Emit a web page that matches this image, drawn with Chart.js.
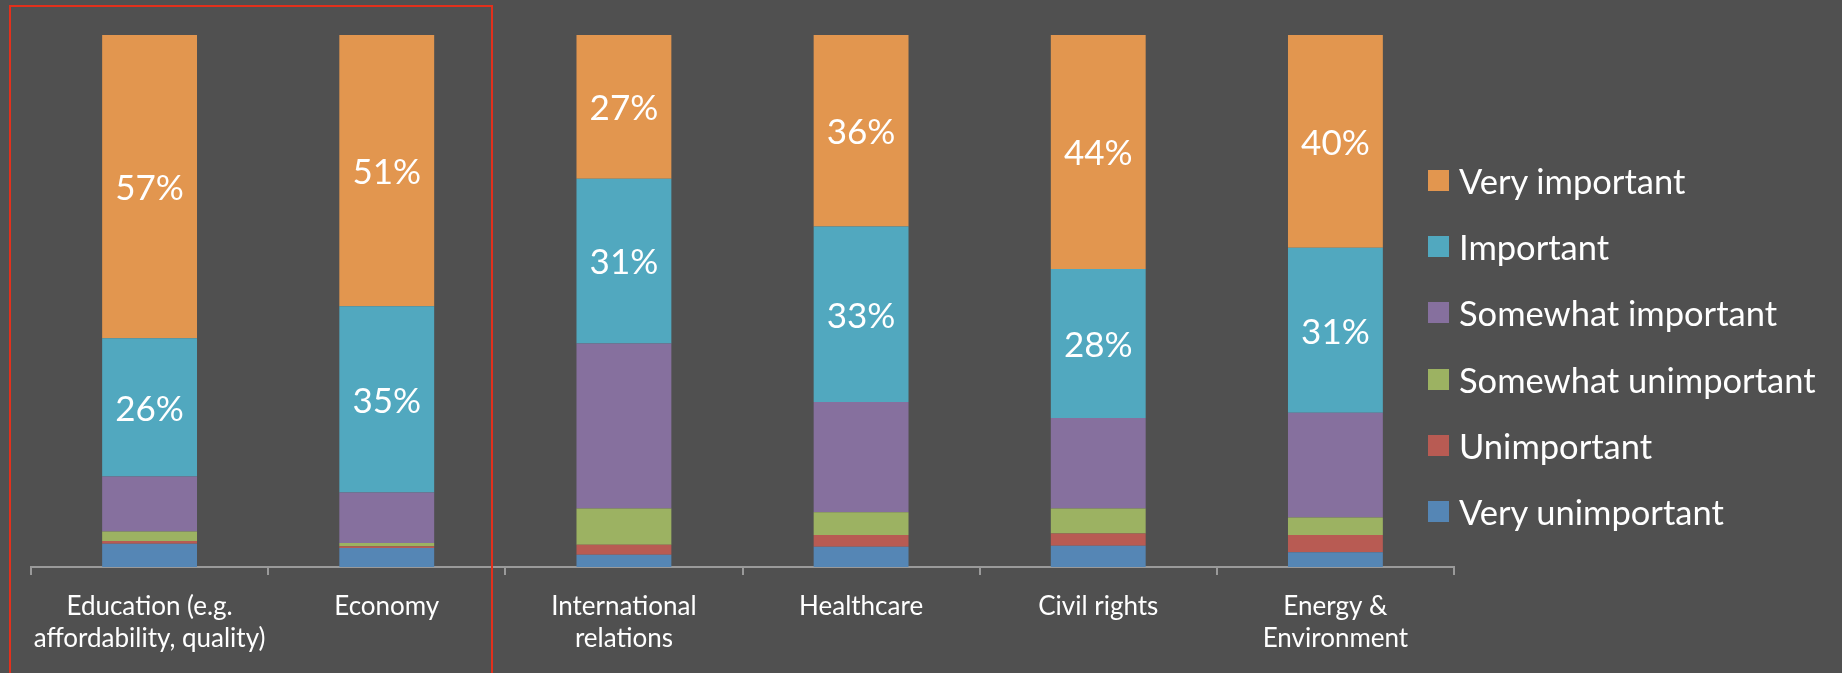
<!DOCTYPE html>
<html>
<head>
<meta charset="utf-8">
<script src="https://cdn.jsdelivr.net/npm/chart.js@4.4.0/dist/chart.umd.min.js"></script>
<style>
    html, body { margin: 0; padding: 0; background: #505050; overflow: hidden; }
    #wrap { position: relative; width: 1842px; height: 673px; }
    #legend { position: absolute; left: 1428px; top: 147px; font-family: Lato, sans-serif; font-size: 34.5px; color: #fff; }
    .item { height: 66.3px; display: flex; align-items: center; }
    .box { width: 21px; height: 21px; margin-right: 10px; }
    #highlight { position: absolute; left: 9px; top: 5px; width: 480px; height: 720px; border: 2px solid #e2301c; }
</style>
</head>
<body>
<div id="wrap">
    <canvas id="priorityChart"></canvas>
    <div id="legend"></div>
    <div id="highlight"></div>
</div>
<script>
// Categories (issues) along the x axis
const categories = [
    ['Education (e.g.', 'affordability, quality)'],
    'Economy',
    ['International', 'relations'],
    'Healthcare',
    'Civil rights',
    ['Energy &', 'Environment']
];

// Share of respondents per answer, in percent (bottom of the stack first)
const veryUnimportant     = [4.4, 3.6, 2.3, 3.8, 4.0, 2.8];
const unimportant         = [0.5, 0.3, 1.9, 2.2, 2.3, 3.2];
const somewhatUnimportant = [1.8, 0.6, 6.8, 4.3, 4.7, 3.3];
const somewhatImportant   = [10.3, 9.5, 31, 20.7, 17, 19.7];
const important           = [26, 35, 31, 33, 28, 31];
const veryImportant       = [57, 51, 27, 36, 44, 40];

document.addEventListener('DOMContentLoaded', () => {
    const ctx = document.getElementById('priorityChart').getContext('2d');

    const data = {
        labels: categories,
        datasets: [
            { label: 'Very unimportant', data: veryUnimportant, backgroundColor: '#5586b5' },
            { label: 'Unimportant', data: unimportant, backgroundColor: '#b85b53' },
            { label: 'Somewhat unimportant', data: somewhatUnimportant, backgroundColor: '#9cb262' },
            { label: 'Somewhat important', data: somewhatImportant, backgroundColor: '#86709e' },
            { label: 'Important', data: important, backgroundColor: '#51a8bf', showValues: true },
            { label: 'Very important', data: veryImportant, backgroundColor: '#e2964f', showValues: true }
        ]
    };

    // Writes the percentage in the middle of the two top segments
    const valueLabels = {
        id: 'valueLabels',
        afterDatasetsDraw(chart) {
            const c = chart.ctx;
            c.save();
            c.fillStyle = '#ffffff';
            c.font = '35px Lato';
            c.textAlign = 'center';
            c.textBaseline = 'middle';
            chart.data.datasets.forEach((ds, i) => {
                if (!ds.showValues) return;
                chart.getDatasetMeta(i).data.forEach((bar, j) => {
                    c.fillText(Math.round(ds.data[j]) + '%', bar.x, (bar.y + bar.base) / 2 + 2);
                });
            });
            c.restore();
        }
    };

    const config = {
        type: 'bar',
        data: data,
        options: {
            responsive: true,
            maintainAspectRatio: false,
            animation: false,
            layout: { padding: { left: 31, right: 388, top: 35, bottom: 2 } },
            plugins: {
                legend: { display: false },
                tooltip: { enabled: false }
            },
            datasets: { bar: { barPercentage: 0.4, categoryPercentage: 1.0 } },
            scales: {
                x: {
                    stacked: true,
                    border: { color: '#9a9a9a', width: 2 },
                    grid: { offset: true, drawOnChartArea: false, color: '#9a9a9a', lineWidth: 2, tickLength: 8 },
                    ticks: {
                        color: '#ffffff',
                        font: { family: 'Lato', size: 26, lineHeight: 1.23 },
                        maxRotation: 0,
                        autoSkip: false,
                        padding: 16
                    }
                },
                y: {
                    stacked: true,
                    display: false,
                    min: 0,
                    max: 100
                }
            }
        },
        plugins: [valueLabels]
    };

    new Chart(ctx, config);

    // Legend on the right, top entry is the top of the stack
    const legend = document.getElementById('legend');
    data.datasets.slice().reverse().forEach(ds => {
        const row = document.createElement('div');
        row.className = 'item';
        row.innerHTML = '<span class="box" style="background:' + ds.backgroundColor + '"></span>' + ds.label;
        legend.appendChild(row);
    });
});
</script>
</body>
</html>
